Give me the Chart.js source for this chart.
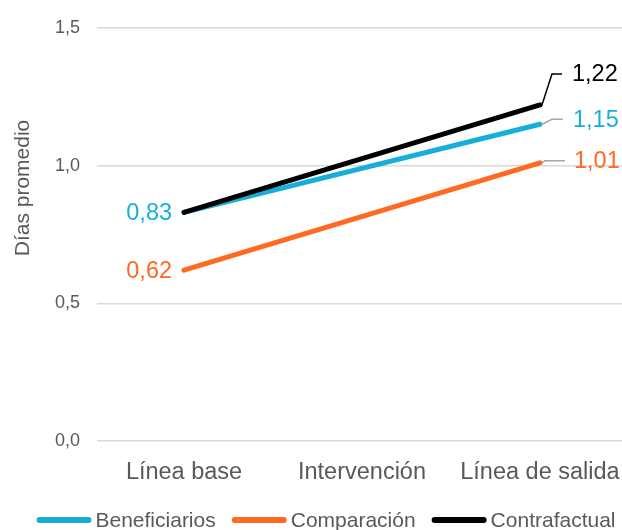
<!DOCTYPE html>
<html>
<head>
<meta charset="utf-8">
<script src="https://cdn.jsdelivr.net/npm/chart.js@4"></script>
<style>
  html, body { margin: 0; padding: 0; background: #fff; }
  #box { width: 622px; height: 530px; }
</style>
</head>
<body>
<div id="box"><canvas id="chart"></canvas></div>
<script>
const categories = ['Línea base', 'Intervención', 'Línea de salida'];
const beneficiarios = [0.83, null, 1.15];
const comparacion = [0.62, null, 1.01];
const contrafactual = [0.83, null, 1.22];
const yTicks = [0, 0.5, 1.0, 1.5];
const yTitle = 'Días promedio';

const FONT = '"Liberation Sans", Arial, sans-serif';
const GREY = '#595959';
const fmt = v => v.toFixed(2).replace('.', ',');
const toPoints = arr => arr.map((v, i) => ({ x: i, y: v })).filter(p => p.y !== null);

// value labels: left label on first point, right label with a leader line
const labelPlugin = {
    id: 'labels',
    afterDatasetsDraw(chart) {
        const ctx = chart.ctx;
        ctx.save();
        ctx.font = '23.5px ' + FONT;
        ctx.textBaseline = 'middle';
        chart.data.datasets.forEach((ds, i) => {
            const pts = chart.getDatasetMeta(i).data;
            const first = pts[0], last = pts[pts.length - 1];
            if (ds.leftLabel) {
                ctx.fillStyle = ds.borderColor;
                ctx.textAlign = 'right';
                ctx.fillText(fmt(ds.data[0].y), first.x - 12, first.y + 1);
            }
            const lead = ds.leader;
            ctx.strokeStyle = lead.color;
            ctx.lineWidth = 1.5;
            ctx.beginPath();
            ctx.moveTo(last.x + 2, last.y);
            ctx.lineTo(last.x + lead.dx, last.y + lead.dy);
            ctx.lineTo(last.x + lead.dx + lead.len, last.y + lead.dy);
            ctx.stroke();
            ctx.fillStyle = ds.borderColor;
            ctx.textAlign = 'left';
            ctx.fillText(fmt(ds.data[ds.data.length - 1].y), last.x + lead.dx + lead.len + lead.gap, last.y + lead.dy + 1);
        });
        ctx.restore();
    }
};

// y title (off-centre like the original) and a bottom legend with line swatches
const decorPlugin = {
    id: 'decor',
    afterDraw(chart) {
        const ctx = chart.ctx;
        ctx.save();
        ctx.font = '21px ' + FONT;
        ctx.fillStyle = GREY;
        ctx.textBaseline = 'middle';
        ctx.textAlign = 'center';
        ctx.translate(23, 188);
        ctx.rotate(-Math.PI / 2);
        ctx.fillText(yTitle, 0, 0);
        ctx.restore();

        ctx.save();
        ctx.font = '21px ' + FONT;
        ctx.textBaseline = 'middle';
        const sw = 55, gapText = 4, gapItem = 16, y = 520;
        const items = chart.data.datasets.map(ds => ({ label: ds.label, color: ds.borderColor, w: ctx.measureText(ds.label).width }));
        const total = items.reduce((s, it) => s + sw + gapText + it.w, 0) + gapItem * (items.length - 1);
        let x = 326 - total / 2;
        items.forEach(it => {
            ctx.strokeStyle = it.color;
            ctx.lineWidth = 6;
            ctx.lineCap = 'round';
            ctx.beginPath();
            ctx.moveTo(x + 3, y);
            ctx.lineTo(x + sw - 3, y);
            ctx.stroke();
            ctx.fillStyle = GREY;
            ctx.textAlign = 'left';
            ctx.fillText(it.label, x + sw + gapText, y + 1);
            x += sw + gapText + it.w + gapItem;
        });
        ctx.restore();
    }
};

const ctx = document.getElementById('chart').getContext('2d');
const chart = new Chart(ctx, {
    type: 'line',
    data: {
        datasets: [{
            label: 'Beneficiarios',
            data: toPoints(beneficiarios),
            borderColor: '#17AFD7',
            backgroundColor: '#17AFD7',
            leftLabel: true,
            leader: { color: '#A6A6A6', dx: 12, dy: -5, len: 11, gap: 10 },
            order: 1
        }, {
            label: 'Comparación',
            data: toPoints(comparacion),
            borderColor: '#FF6A21',
            backgroundColor: '#FF6A21',
            leftLabel: true,
            leader: { color: '#A6A6A6', dx: 5, dy: -2, len: 20, gap: 9 },
            order: 2
        }, {
            label: 'Contrafactual',
            data: toPoints(contrafactual),
            borderColor: '#000000',
            backgroundColor: '#000000',
            leftLabel: false,
            leader: { color: '#000000', dx: 12, dy: -31, len: 10, gap: 10 },
            order: 0
        }]
    },
    options: {
        responsive: true,
        maintainAspectRatio: false,
        animation: false,
        devicePixelRatio: 1,
        layout: { padding: { top: 18, right: 0, bottom: 39, left: 0 } },
        elements: {
            line: { borderWidth: 5, borderCapStyle: 'round', tension: 0 },
            point: { radius: 0, hoverRadius: 0 }
        },
        plugins: {
            tooltip: { enabled: false },
            legend: { display: false }
        },
        scales: {
            x: {
                type: 'linear',
                min: -0.489,
                max: 2.461,
                grid: { display: false },
                border: { display: false },
                afterBuildTicks: axis => { axis.ticks = categories.map((c, i) => ({ value: i })); },
                afterFit: axis => {
                    axis.height = 50;
                    axis.paddingLeft = 0;
                    axis.paddingRight = 0;
                },
                ticks: {
                    color: GREY,
                    padding: 9,
                    maxRotation: 0,
                    font: { family: FONT, size: 23.5 },
                    callback: v => categories[v]
                }
            },
            y: {
                min: 0,
                max: 1.5,
                afterBuildTicks: axis => { axis.ticks = yTicks.map(v => ({ value: v })); },
                afterFit: axis => { axis.width = 97; },
                grid: { color: '#D9D9D9', lineWidth: 1.5, drawTicks: false },
                border: { display: false },
                ticks: {
                    color: GREY,
                    padding: 17,
                    font: { family: FONT, size: 18 },
                    callback: v => v.toFixed(1).replace('.', ',')
                }
            }
        }
    },
    plugins: [labelPlugin, decorPlugin]
});
</script>
</body>
</html>
